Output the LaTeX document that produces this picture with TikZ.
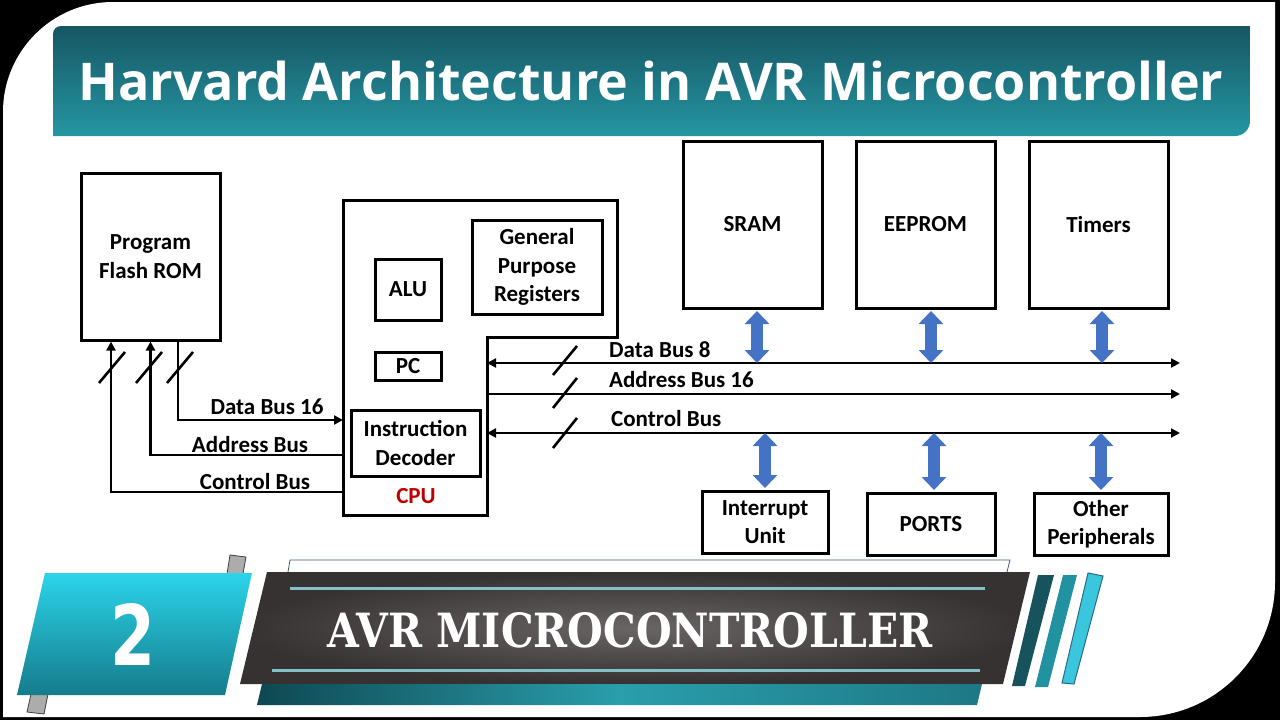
\documentclass[tikz,border=0pt]{standalone}
\usepackage{fontspec}
\setmainfont{Carlito}
\newfontfamily\titlefont{Open Sans}
\newfontfamily\stencilfont{DejaVu Serif}
\newfontfamily\numfont{DejaVu Sans}
\usetikzlibrary{arrows.meta,calc}
\definecolor{tealtop}{HTML}{175663}
\definecolor{tealbot}{HTML}{2596A3}
\definecolor{arrblue}{HTML}{4472C4}
\definecolor{cpured}{HTML}{C00000}
\definecolor{cyanL}{HTML}{2CD4EA}
\definecolor{cyanD}{HTML}{147C8C}
\definecolor{grayC}{HTML}{6A6565}
\definecolor{grayE}{HTML}{363232}
\definecolor{barD}{HTML}{0E4852}
\definecolor{barL}{HTML}{2A9EAC}
\definecolor{barR}{HTML}{1E7885}
\definecolor{lineC}{HTML}{86BFCC}
\definecolor{slate}{HTML}{3D5A6A}
\definecolor{stA}{HTML}{17535D}
\definecolor{stB}{HTML}{2291A0}
\definecolor{stC}{HTML}{3AC6DD}
\definecolor{stCd}{HTML}{2A6A88}
\newcommand\lblfont{\bfseries\fontsize{23}{28.5}\selectfont}
\begin{document}
\begin{tikzpicture}[x=1pt,y=-1pt,
  blk/.style={draw, line width=3pt, inner sep=0pt, align=center, font=\lblfont},
  lab/.style={inner sep=0pt, font=\lblfont},
  wire/.style={line width=2.6pt},
  slash/.style={line width=2.6pt},
  Tri/.tip={Triangle[length=9pt,width=9pt]},
  bluearr/.style={draw=arrblue, line width=11.5pt, arrows={Triangle[width=24pt,length=13pt]-Triangle[width=24pt,length=13pt]}}
]
\useasboundingbox (0,0) rectangle (1280,720);
% background frame
\fill[black] (0,0) rectangle (1280,720);
\fill[white] (3,717) -- (3,112) arc[start angle=180,end angle=270,radius=110]
  -- (1275,2) -- (1275,582) arc[start angle=0,end angle=90,radius=135] -- cycle;
% title banner
\shade[top color=tealtop, bottom color=tealbot] (53,136) -- (53,34)
  arc[start angle=180,end angle=270,radius=8] -- (1250,26) -- (1250,121)
  arc[start angle=0,end angle=90,radius=15] -- cycle;
\node[anchor=base, text=white, inner sep=0pt, font=\titlefont\bfseries\fontsize{52}{60}\selectfont] (title) at (651,100) {Harvard Architecture in AVR Microcontroller};

% program memory
\node[blk, minimum width=139pt, minimum height=167pt] (rom) at (150.5,256.5) {Program\\Flash ROM};

% CPU outline
\draw[line width=3pt] (343,200) -- (617,200) -- (617,337) -- (487,337) -- (487,515) -- (343,515) -- cycle;
\coordinate (cpuW) at (343,515);
\coordinate (cpuE) at (487,515);
\node[blk, minimum width=66pt, minimum height=61pt] (alu) at (408,289.5) {ALU};
\node[blk, minimum width=66pt, minimum height=28pt] (pc) at (408,366) {PC};
\node[blk, minimum width=130pt, minimum height=94pt] (gpr) at (537,267) {General\\Purpose\\Registers};
\node[blk, minimum width=129pt, minimum height=66pt] (idec) at (415.5,443) {Instruction\\Decoder};
\node[lab, text=cpured] (cpulbl) at (416,496) {CPU};

% left buses
\coordinate (d16) at (343,420);
\coordinate (aL) at (343,455);
\coordinate (cL) at (343,492);
\draw[wire, arrows={-Tri}] ([xshift=27.5pt]rom.south) |- (d16);
\draw[wire, arrows={Tri-}] (rom.south) |- (aL);
\draw[wire, arrows={Tri-}] ([xshift=-39.5pt]rom.south) |- (cL);
\draw[slash] (99,383) -- (125,352);
\draw[slash] (136,383) -- (162,352);
\draw[slash] (167,383) -- (193,352);
\node[lab] (l1) at (267,407) {Data Bus 16};
\node[lab] (l2) at (250,445) {Address Bus};
\node[lab] (l3) at (255,482) {Control Bus};

% right buses
\coordinate (db8L) at (487,363);
\coordinate (db8R) at (1180,363);
\coordinate (abL) at (487,394);
\coordinate (abR) at (1180,394);
\coordinate (cbL) at (487,433);
\coordinate (cbR) at (1180,433);
\draw[wire, arrows={Tri-Tri}] (db8L) -- (db8R);
\draw[wire, arrows={-Tri}] (abL) -- (abR);
\draw[wire, arrows={Tri-Tri}] (cbL) -- (cbR);
\draw[slash] (553,375) -- (577,346);
\draw[slash] (553,408) -- (577,378);
\draw[slash] (553,448) -- (577,418);
\node[lab, anchor=west] (r1) at (609,350) {Data Bus 8};
\node[lab, anchor=west] (r2) at (609,380) {Address Bus 16};
\node[lab, anchor=west] (r3) at (611,419) {Control Bus};

% peripherals
\node[blk, minimum width=139pt, minimum height=167pt] (sram) at (752.5,224.5) {SRAM};
\node[blk, minimum width=139pt, minimum height=167pt] (eeprom) at (925.5,224.5) {EEPROM};
\node[blk, minimum width=139pt, minimum height=167pt] (timers) at (1098.5,224.5) {Timers};
\node[blk, minimum width=126pt, minimum height=62pt] (intr) at (765,522) {Interrupt\\Unit};
\node[blk, minimum width=128pt, minimum height=62pt] (ports) at (931,524) {PORTS};
\node[blk, minimum width=134pt, minimum height=62pt] (other) at (1101,524) {Other\\Peripherals};

\draw[bluearr] ($(sram.south)+(4.5,1.5)$) -- ($(sram.south |- db8L)+(4.5,0)$);
\draw[bluearr] ($(eeprom.south)+(5.5,1.5)$) -- ($(eeprom.south |- db8L)+(5.5,0)$);
\draw[bluearr] ($(timers.south)+(3.5,1.5)$) -- ($(timers.south |- db8L)+(3.5,0)$);
\draw[bluearr] (intr.north |- cbL) -- ($(intr.north)+(0,-1.5)$);
\draw[bluearr] ($(ports.north |- cbL)+(3,0)$) -- ($(ports.north)+(3,-1.5)$);
\draw[bluearr] (other.north |- cbL) -- ($(other.north)+(0,-1.5)$);

% bottom banner
\filldraw[fill=gray!65, draw=black!75, line width=0.8pt] (227,574) -- (230,555) -- (246,557) -- (243,574) -- cycle;
\filldraw[fill=gray!65, draw=black!75, line width=0.8pt] (31,694) -- (48,694) -- (44,714) -- (27,712) -- cycle;
\shade[top color=cyanL, bottom color=cyanD] (45,573) -- (252,573) -- (225,695) -- (17,695) -- cycle;
\node[text=white, inner sep=0pt] (num) at (133,634) {\resizebox{45pt}{62pt}{\numfont\bfseries 2}};
\draw[slate, line width=0.8pt] (288,572) -- (290,560) -- (1010,560) -- (1007,572);
\shade[inner color=grayC, outer color=grayE] (267,572) -- (1030,572) -- (1003,684) -- (240,684) -- cycle;
\shade[left color=barD, right color=barR, middle color=barL] (262,684) -- (982,684) -- (977,705) -- (257,705) -- cycle;
\draw[lineC, line width=3pt] (290,588) -- (985,588);
\draw[lineC, line width=3pt] (272,670) -- (980,670);
\node[text=white, inner sep=0pt] (sub) at (630,630) {\resizebox{605pt}{35pt}{\stencilfont\bfseries AVR MICROCONTROLLER}};
\fill[stA] (1038,575) -- (1054,575) -- (1025,686) -- (1012,686) -- cycle;
\fill[stB] (1063,575) -- (1077,575) -- (1048,687) -- (1035,687) -- cycle;
\filldraw[fill=stC, draw=stCd, line width=1pt] (1088,573) -- (1103,576) -- (1074,684) -- (1062,683) -- cycle;
\end{tikzpicture}
\end{document}
